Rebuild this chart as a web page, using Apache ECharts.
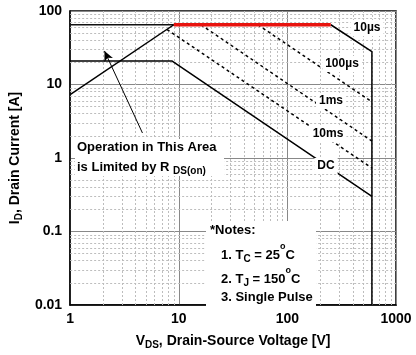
<!DOCTYPE html>
<html><head><meta charset="utf-8">
<script src="https://cdn.jsdelivr.net/npm/echarts@6/dist/echarts.min.js"></script>
<style>html,body{margin:0;padding:0;background:#fff}#c{width:416px;height:355px}</style>
</head><body><div id="c"></div>
<script>
// ---- data (V, A) ----
const xTicks = [1, 10, 100, 1000];
const yTicks = [0.01, 0.1, 1, 10, 100];
const minorFactors = [2, 3, 4, 5, 6, 7, 8, 9];
const limitLine = [[1, 65], [9, 65]];
const pulseLimit = [[9, 65], [251, 65]];
const rdsLine = [[1, 7.3], [9, 65]];
const line10us = [[251, 65], [600, 28], [600, 0.01]];
const line100us = [[53.5, 65], [600, 5.8]];
const line1ms = [[16, 65], [600, 1.7]];
const line10ms = [[7.8, 56], [600, 0.73]];
const lineDC = [[1, 20.8], [8.7, 20.8], [600, 0.30]];
const arrowFrom = [4.63, 2.19];
const arrowTo = [2.07, 28.6];
const curveLabels = ['10\u00b5s', '100\u00b5s', '1ms', '10ms', 'DC'];

const FONT = 'Liberation Sans, Arial, Helvetica, sans-serif';
const minorX = [], minorY = [];
xTicks.slice(0, -1).forEach(d => minorFactors.forEach(f => minorX.push({ xAxis: d * f })));
yTicks.slice(0, -1).forEach(d => minorFactors.forEach(f => minorY.push({ yAxis: +(d * f).toPrecision(3) })));

function solid(data, color, width, z) {
  return { type: 'line', data, showSymbol: false, symbol: 'none', silent: true, z: z || 5,
    lineStyle: { color: color || '#000', width: width || 1.5 } };
}
function dashed(data) {
  return { type: 'line', data, showSymbol: false, symbol: 'none', silent: true, z: 5,
    lineStyle: { color: '#000', width: 1.5, type: [3, 3] } };
}
const fmt = v => String(+v.toPrecision(3));
const richTitle = {
  b: { fontSize: 14, fontWeight: 'bold', fontFamily: FONT, color: '#000', lineHeight: 18, verticalAlign: 'bottom' },
  s: { fontSize: 10, fontWeight: 'bold', fontFamily: FONT, color: '#000', lineHeight: 18, verticalAlign: 'bottom', padding: [0, 0, -2, 0] }
};
const richNote = {
  b: { font: 'bold 13px ' + FONT, fill: '#000', lineHeight: 18, verticalAlign: 'bottom' },
  s: { font: 'bold 10px ' + FONT, fill: '#000', lineHeight: 18, verticalAlign: 'bottom', padding: [0, 0, -2, 0] },
  p: { font: 'bold 9px ' + FONT, fill: '#000', lineHeight: 18, verticalAlign: 'top', padding: [-2, 0, 0, 0] }
};

const chart = echarts.init(document.getElementById('c'), null, { renderer: 'canvas' });
const lbl = (text, x, y) => ({
  type: 'text', x, y, z: 100,
  style: { text, font: 'bold 12px ' + FONT, fill: '#000', align: 'center', verticalAlign: 'middle',
    backgroundColor: '#fff', padding: [2, 3] }
});
chart.setOption({
  animation: false,
  backgroundColor: '#fff',
  grid: { left: 67, right: 20, top: 11, bottom: 45, show: true, borderColor: '#000', borderWidth: 1.5, backgroundColor: 'transparent' },
  xAxis: {
    type: 'log', logBase: 10, min: 1, max: 1000,
    axisLine: { show: true, lineStyle: { color: '#000', width: 1.5 } },
    axisTick: { show: false },
    axisLabel: { formatter: fmt, color: '#000', fontSize: 14, fontWeight: 'bold', fontFamily: FONT, margin: 7 },
    splitLine: { show: true, lineStyle: { color: '#888', width: 1 } },
    name: '{b|V}{s|DS}{b|, Drain-Source Voltage [V]}',
    nameLocation: 'middle', nameGap: 25,
    nameTextStyle: { rich: richTitle }
  },
  yAxis: {
    type: 'log', logBase: 10, min: 0.01, max: 100,
    axisLine: { show: true, lineStyle: { color: '#000', width: 1.5 } },
    axisTick: { show: false },
    axisLabel: { formatter: fmt, color: '#000', fontSize: 14, fontWeight: 'bold', fontFamily: FONT, margin: 8 },
    splitLine: { show: true, lineStyle: { color: '#888', width: 1 } },
    name: '{b|I}{s|D}{b|, Drain Current [A]}',
    nameLocation: 'middle', nameGap: 44, nameRotate: 90,
    nameTextStyle: { rich: richTitle }
  },
  series: [
    { type: 'line', data: [], z: 1, silent: true,
      markLine: { silent: true, symbol: 'none', animation: false, label: { show: false },
        lineStyle: { color: '#bdbdbd', width: 1, type: [2, 2] },
        data: minorX.concat(minorY) } },
    solid(limitLine, '#111', 1.5),
    solid(pulseLimit, '#e8140f', 3.5, 6),
    solid(rdsLine),
    solid(line10us),
    dashed(line100us),
    dashed(line1ms),
    dashed(line10ms),
    solid(lineDC),
    { type: 'line', data: [], z: 7, silent: true,
      markLine: { silent: true, animation: false, symbol: ['none', 'arrow'], symbolSize: [7, 10],
        label: { show: false }, lineStyle: { color: '#000', width: 1, type: 'solid' },
        data: [[{ coord: arrowFrom }, { coord: arrowTo }]] } }
  ],
  graphic: [
    { type: 'rect', z: 90, shape: { x: 75, y: 139, width: 149, height: 37 }, style: { fill: '#fff' } },
    { type: 'text', z: 100, x: 77, y: 147,
      style: { text: 'Operation in This Area', font: 'bold 13px ' + FONT, fill: '#000', verticalAlign: 'middle' } },
    { type: 'text', z: 100, x: 77, y: 165,
      style: { text: '{b|is Limited by R }{s|DS(on)}', verticalAlign: 'middle', rich: richNote } },
    { type: 'rect', z: 90, shape: { x: 206, y: 221, width: 110, height: 88 }, style: { fill: '#fff' } },
    { type: 'text', z: 100, x: 210, y: 230,
      style: { text: '*Notes:', font: 'bold 13px ' + FONT, fill: '#000', verticalAlign: 'middle' } },
    { type: 'text', z: 100, x: 221, y: 253,
      style: { text: '{b|1. T}{s|C}{b| = 25}{p|o}{b|C}', verticalAlign: 'middle', rich: richNote } },
    { type: 'text', z: 100, x: 221, y: 277,
      style: { text: '{b|2. T}{s|J}{b| = 150}{p|o}{b|C}', verticalAlign: 'middle', rich: richNote } },
    { type: 'text', z: 100, x: 221, y: 297,
      style: { text: '3. Single Pulse', font: 'bold 13px ' + FONT, fill: '#000', verticalAlign: 'middle' } },
    lbl(curveLabels[0], 367, 28),
    lbl(curveLabels[1], 342, 64),
    lbl(curveLabels[2], 331, 101),
    lbl(curveLabels[3], 328, 134),
    lbl(curveLabels[4], 326, 166)
  ]
});
</script></body></html>
